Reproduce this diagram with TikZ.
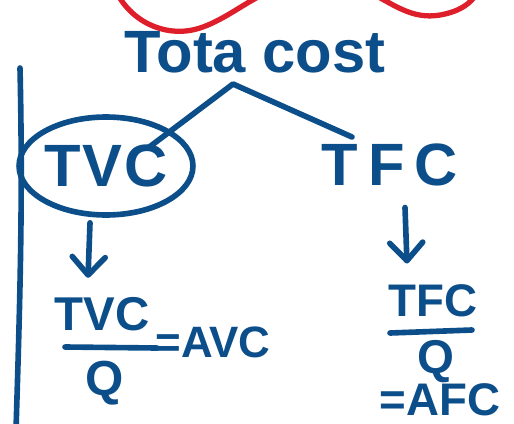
\documentclass[tikz,border=0pt]{standalone}
\usepackage{fontspec}
\setmainfont{Liberation Sans}
\usepackage{tikz}
\usetikzlibrary{shapes}
\usetikzlibrary{arrows.meta}
\usetikzlibrary{positioning}
\definecolor{inkblue}{RGB}{12,78,138}
\definecolor{inkred}{RGB}{222,30,42}
\newcommand{\fs}[1]{\fontsize{#1}{#1}\selectfont\bfseries}

\begin{document}
\begin{tikzpicture}[x = 0.02cm, y = -0.02cm,
		ink/.style = {draw = inkblue, line width = 3.2pt, line cap = round, line join = round},
		lbl/.style = {text = inkblue, inner sep = 0pt},
		arr/.style = {ink, -{Straight Barb[length = 0.36cm, width = 0.66cm, round]}}]
			 	\useasboundingbox (0, 0) rectangle (514, 423);
			 	
			 	% Red stroke at the top
			 	\begin{scope}
			 		\clip (0, 0) rectangle (514, 423);
			 		\draw[draw = inkred, line width = 3pt, line cap = round]
			 			(118, -5) .. controls (135, 25) and (170, 38) .. (200, 28)
			 			.. controls (240, 15) and (270, -25) .. (330, -20)
			 			.. controls (380, -15) and (400, 25) .. (445, 14)
			 			.. controls (462, 10) and (470, 3) .. (476, -5);
			 		% Left margin line
			 		\draw[ink] (20, 68) .. controls (23, 200) and (20, 300) .. (16, 430);
			 	\end{scope}
			 	
			 	% Nodes
			 	\node[lbl, anchor = base, font = \fs{34}] (total) at (255, 72) {Tota cost};
			 	\node[ink, ellipse, inner sep = 0pt, minimum width = 3.16cm, minimum height = 1.96cm,
			 		text = inkblue, font = \fs{34}] (tvc) at (106, 166) {T\kern1pt V\kern1pt C};
			 	\node[lbl, font = \fs{34}] (tfc) at (390, 165) {T\,F\,C};
			 	\coordinate (apex) at (233, 84);
			 	\coordinate (tvcin) at (148, 148);
			 	\coordinate (tfcin) at (352, 137);
			 	
			 	\node[lbl, font = \fs{27}] (tvcnum) at (102, 314) {TVC};
			 	\node[lbl, font = \fs{28}] (tvcq) at (105, 383) {Q};
			 	\node[lbl, font = \fs{25}] (avc) at (213, 342) {=AVC};
			 	
			 	\node[lbl, font = \fs{26}] (tfcnum) at (433, 301) {TFC};
			 	\node[lbl, font = \fs{27}] (tfcq) at (436, 362) {Q};
			 	\node[lbl, font = \fs{26}] (afc) at (440, 400) {=AFC};
			 	
			 	% Edges
			 	\draw[ink] (tvcin) -- (apex) -- (tfcin);
			 	\draw[arr] (tvc.south) ++(-16, 5) -- ++(-2, 55);
			 	\draw[arr] (tfc.south) ++(15, 21) -- ++(2, 56);
			 	
			 	% Fraction bars
			 	\draw[ink] (65, 347) -- (157, 348);
			 	\draw[ink] (390, 333) -- (472, 330);
			\end{tikzpicture}
\end{document}
